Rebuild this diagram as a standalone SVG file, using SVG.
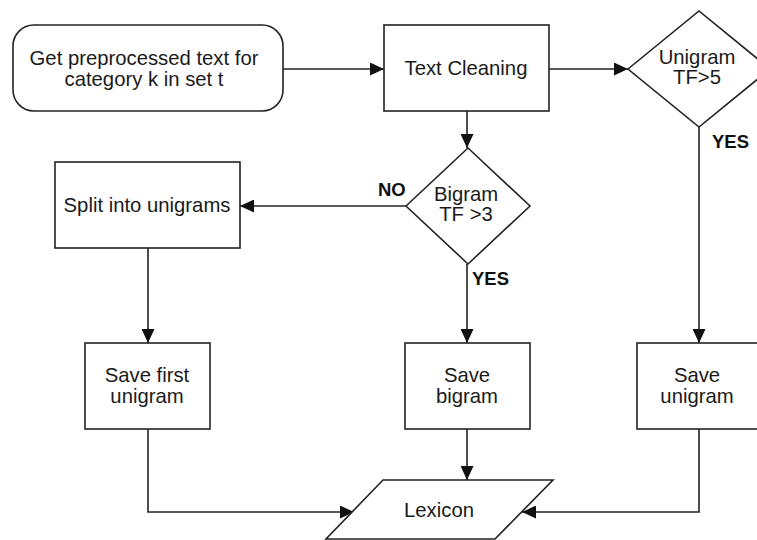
<svg xmlns="http://www.w3.org/2000/svg" width="757" height="540" viewBox="0 0 757 540">
<style>
.shape{fill:#fff;stroke:#222;stroke-width:1.6}
.t{font-family:"Liberation Sans",Arial,sans-serif;font-size:20.3px;fill:#1a1a1a;text-anchor:middle}
.b{font-family:"Liberation Sans",Arial,sans-serif;font-size:18.5px;font-weight:bold;fill:#111}
.c{fill:none;stroke:#222;stroke-width:1.6}
</style>
<defs>
<marker id="ah" markerUnits="userSpaceOnUse" markerWidth="14" markerHeight="13" refX="14" refY="6.5" orient="auto">
<path d="M0,0 L14,6.5 L0,13 z" fill="#111"/>
</marker>
</defs>
<rect width="757" height="540" fill="#fff"/>
<g id="connectors">
<line class="c" x1="283" y1="69" x2="384" y2="69" marker-end="url(#ah)"/>
<line class="c" x1="549" y1="69" x2="628" y2="69" marker-end="url(#ah)"/>
<line class="c" x1="467" y1="111" x2="467" y2="148" marker-end="url(#ah)"/>
<line class="c" x1="406" y1="206" x2="240" y2="206" marker-end="url(#ah)"/>
<line class="c" x1="148" y1="248" x2="148" y2="343" marker-end="url(#ah)"/>
<line class="c" x1="467" y1="264" x2="467" y2="343" marker-end="url(#ah)"/>
<line class="c" x1="699" y1="127" x2="699" y2="343" marker-end="url(#ah)"/>
<line class="c" x1="467" y1="429" x2="467" y2="480" marker-end="url(#ah)"/>
<polyline class="c" points="148,429 148,512 354,512" marker-end="url(#ah)"/>
<polyline class="c" points="699,429 699,512 522,512" marker-end="url(#ah)"/>
<text class="b" x="378" y="196">NO</text>
<text class="b" x="472" y="285">YES</text>
<text class="b" x="712" y="148">YES</text>
</g>
<g id="start">
<rect class="shape" x="13" y="25" width="270" height="86" rx="21"/>
<text class="t" x="144" y="65">Get preprocessed text for</text>
<text class="t" x="144" y="86">category k in set t</text>
</g>
<g id="text-cleaning">
<rect class="shape" x="384" y="25" width="165" height="86"/>
<text class="t" x="466" y="75">Text Cleaning</text>
</g>
<g id="unigram-tf">
<polygon class="shape" points="628,69 699,11 770,69 699,127"/>
<text class="t" x="697" y="64">Unigram</text>
<text class="t" x="697" y="84">TF&gt;5</text>
</g>
<g id="bigram-tf">
<polygon class="shape" points="406,206 468,148 530,206 468,264"/>
<text class="t" x="466" y="201">Bigram</text>
<text class="t" x="466" y="221">TF &gt;3</text>
</g>
<g id="split">
<rect class="shape" x="55" y="162" width="185" height="86"/>
<text class="t" x="147" y="212">Split into unigrams</text>
</g>
<g id="save-first">
<rect class="shape" x="85" y="343" width="125" height="86"/>
<text class="t" x="147" y="382">Save first</text>
<text class="t" x="147" y="403">unigram</text>
</g>
<g id="save-bigram">
<rect class="shape" x="405" y="343" width="125" height="86"/>
<text class="t" x="467" y="382">Save</text>
<text class="t" x="467" y="403">bigram</text>
</g>
<g id="save-unigram">
<rect class="shape" x="637" y="343" width="125" height="86"/>
<text class="t" x="697" y="382">Save</text>
<text class="t" x="697" y="403">unigram</text>
</g>
<g id="lexicon">
<polygon class="shape" points="383,480 553,480 495,539 326,539"/>
<text class="t" x="439" y="517">Lexicon</text>
</g>
</svg>
